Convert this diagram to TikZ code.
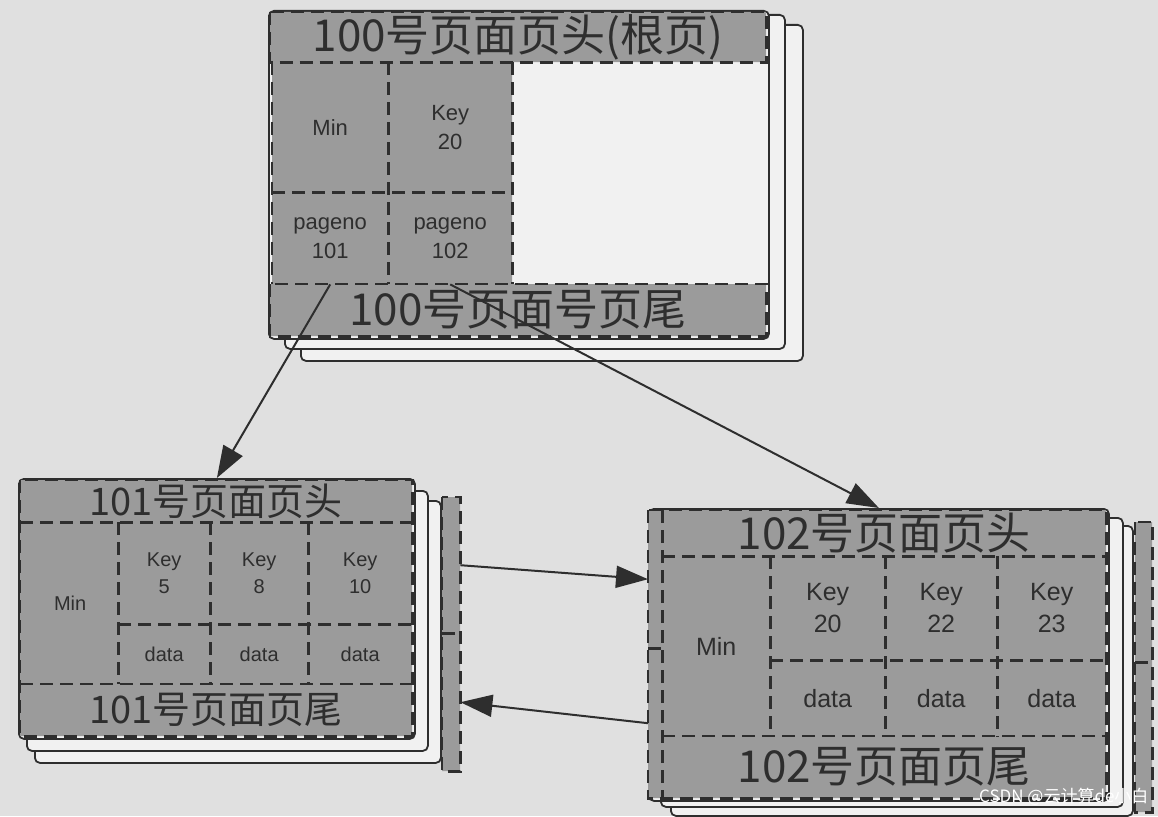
\documentclass[tikz,border=0pt]{standalone}
\usepackage{fontspec}
\setmainfont{Liberation Sans}
\newfontfamily\cjk{Noto Sans CJK SC}
\usetikzlibrary{arrows.meta}
\definecolor{paper}{HTML}{E0E0E0}
\definecolor{sheetwhite}{HTML}{F1F1F1}
\definecolor{cellgray}{HTML}{9B9B9B}
\definecolor{ink}{HTML}{2E2E2E}

\begin{document}
\begin{tikzpicture}[x=1pt,y=-1pt,
    sheet/.style={draw=ink,line width=1.8pt,rounded corners=5pt,fill=sheetwhite,anchor=north west,inner sep=0pt},
    cellbox/.style={anchor=north west,inner sep=0pt,align=center,text=ink,font=\fontsize{22}{29}\selectfont},
    dashline/.style={draw=ink,line width=2.6pt,dash pattern=on 13pt off 7pt},
    bandtext/.style={font=\cjk\fontsize{#1}{#1}\selectfont},
    link/.style={-{Triangle[length=32pt,width=22pt]},line width=2pt,draw=ink}]
\useasboundingbox (0,0) rectangle (1158,816);
\fill[paper] (0,0) rectangle (1158,816);

% page 100 (root)
\node[sheet,minimum width=502pt,minimum height=336pt] (b100b) at (300,24) {};
\node[sheet,minimum width=500pt,minimum height=334pt] (b100a) at (284,14) {};
\node[sheet,minimum width=500pt,minimum height=328pt] (f100) at (268,10) {};
\fill[cellgray] (270,12) rectangle (766,62) (272,62) rectangle (512,284) (270,284) rectangle (766,336);
\node[cellbox,bandtext=44,minimum width=496pt,minimum height=50pt] (hd100) at (270,12) {100号页面页头(根页)};
\node[cellbox,minimum width=116pt,minimum height=130pt] (min100) at (272,62) {Min};
\node[cellbox,minimum width=124pt,minimum height=130pt] (key100) at (388,62) {Key\\20};
\node[cellbox,minimum width=116pt,minimum height=92pt] (pg101) at (272,192) {pageno\\101};
\node[cellbox,minimum width=124pt,minimum height=92pt] (pg102) at (388,192) {pageno\\102};
\node[cellbox,bandtext=44,minimum width=496pt,minimum height=52pt] (ft100) at (270,284) {100号页面号页尾};
\draw[dashline] (hd100.north west) rectangle (hd100.south east) (ft100.north west) rectangle (ft100.south east);
\draw[dashline] (min100.north west) -- (pg101.south west) (key100.north east) -- (pg102.south east)
  (min100.north east) -- (pg101.south east) (min100.south west) -- (key100.south east);

% page 101
\begin{scope}[cellbox/.append style={font=\fontsize{20}{27}\selectfont}]
\node[sheet,minimum width=406pt,minimum height=262pt] (b101b) at (34,500) {};
\node[sheet,minimum width=401pt,minimum height=260pt] (b101a) at (26,490) {};
\node[sheet,minimum width=396pt,minimum height=260pt] (f101) at (18,478) {};
\fill[cellgray] (20,480) rectangle (412,736) (442,497) rectangle (460,771);
\node[cellbox,bandtext=38,minimum width=392pt,minimum height=42pt] (hd101) at (20,480) {101号页面页头};
\node[cellbox,minimum width=96pt,minimum height=162pt] (min101) at (22,522) {Min};
\node[cellbox,minimum width=92pt,minimum height=102pt] (k5) at (118,522) {Key\\5};
\node[cellbox,minimum width=98pt,minimum height=102pt] (k8) at (210,522) {Key\\8};
\node[cellbox,minimum width=104pt,minimum height=102pt] (k10) at (308,522) {Key\\10};
\node[cellbox,minimum width=92pt,minimum height=60pt] (d5) at (118,624) {data};
\node[cellbox,minimum width=98pt,minimum height=60pt] (d8) at (210,624) {data};
\node[cellbox,minimum width=104pt,minimum height=60pt] (d10) at (308,624) {data};
\node[cellbox,bandtext=38,minimum width=392pt,minimum height=52pt] (ft101) at (20,684) {101号页面页尾};
\node[cellbox,minimum width=18pt,minimum height=136pt] (s101a) at (442,497) {};
\node[cellbox,minimum width=18pt,minimum height=138pt] (s101b) at (442,633) {};
\end{scope}
\draw[dashline] (hd101.north west) rectangle (ft101.south east) (hd101.south west) -- (hd101.south east)
  (ft101.north west) -- (ft101.north east) (min101.north east) -- (min101.south east)
  (k5.north east) -- (d5.south east) (k8.north east) -- (d8.south east) (k5.south west) -- (k10.south east);
\draw[dashline] (s101a.north west) rectangle (s101b.south east) (s101a.south west) -- (s101a.south east);

% page 102
\begin{scope}[cellbox/.append style={font=\fontsize{25}{32}\selectfont}]
\node[sheet,minimum width=462pt,minimum height=290pt] (b102b) at (670,525) {};
\node[sheet,minimum width=462pt,minimum height=289pt] (b102a) at (660,517) {};
\node[sheet,minimum width=460pt,minimum height=292pt] (f102) at (648,508) {};
\fill[cellgray] (648,510) rectangle (1106,798) (1135,522) rectangle (1152,812);
\node[cellbox,bandtext=44,minimum width=444pt,minimum height=46pt] (hd102) at (662,510) {102号页面页头};
\node[cellbox,minimum width=14pt,minimum height=138pt] (s102a) at (648,510) {};
\node[cellbox,minimum width=14pt,minimum height=150pt] (s102b) at (648,648) {};
\node[cellbox,minimum width=108pt,minimum height=180pt] (min102) at (662,556) {Min};
\node[cellbox,minimum width=115pt,minimum height=104pt] (k20) at (770,556) {Key\\20};
\node[cellbox,minimum width=112pt,minimum height=104pt] (k22) at (885,556) {Key\\22};
\node[cellbox,minimum width=109pt,minimum height=104pt] (k23) at (997,556) {Key\\23};
\node[cellbox,minimum width=115pt,minimum height=76pt] (d20) at (770,660) {data};
\node[cellbox,minimum width=112pt,minimum height=76pt] (d22) at (885,660) {data};
\node[cellbox,minimum width=109pt,minimum height=76pt] (d23) at (997,660) {data};
\node[cellbox,bandtext=44,minimum width=444pt,minimum height=62pt] (ft102) at (662,736) {102号页面页尾};
\node[cellbox,minimum width=17pt,minimum height=140pt] (s102c) at (1135,522) {};
\node[cellbox,minimum width=17pt,minimum height=150pt] (s102d) at (1135,662) {};
\end{scope}
\draw[dashline] (s102a.north west) rectangle (ft102.south east) (s102a.north east) -- (s102b.south east)
  (s102a.south west) -- (s102a.south east) (hd102.south west) -- (hd102.south east)
  (ft102.north west) -- (ft102.north east) (min102.north east) -- (min102.south east)
  (k20.north east) -- (d20.south east) (k22.north east) -- (d22.south east) (k20.south west) -- (k23.south east);
\draw[dashline] (s102c.north west) rectangle (s102d.south east) (s102c.south west) -- (s102c.south east);

% pointers
\draw[link] (pg101.south) -- (f101.north);
\draw[link] (pg102.south) -- (f102.north);
\draw[link] (s101a.east) -- (s102a.west);
\draw[link] (s102b.west) -- (s101b.east);

\node[font=\cjk\fontsize{17}{17}\selectfont,text=white,anchor=east] (mark) at (1152,797) {CSDN @云计算de小白};
\end{tikzpicture}
\end{document}
